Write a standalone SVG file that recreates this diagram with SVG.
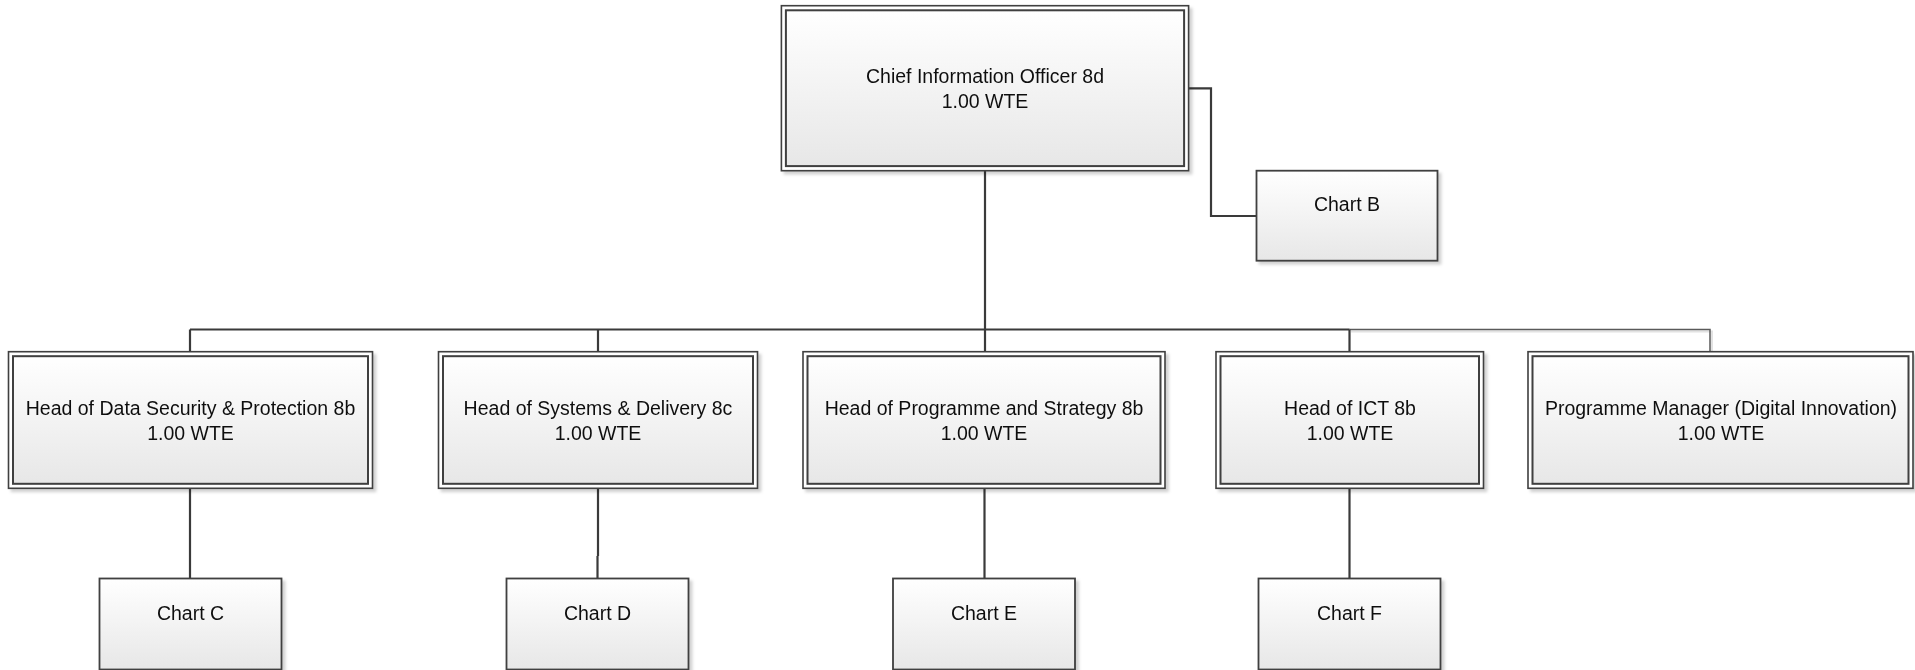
<svg xmlns="http://www.w3.org/2000/svg" width="1915" height="670" viewBox="0 0 1915 670">
<style>
.o{fill:#ffffff;stroke:#3f3f3f;stroke-width:1.6}
.i{fill:url(#g);stroke:#3f3f3f;stroke-width:2}
.c{fill:url(#g);stroke:#3f3f3f;stroke-width:1.8}
.t{font-family:"Liberation Sans",Arial,sans-serif;font-size:19.5px;fill:#111;text-anchor:middle}
.ln{fill:none;stroke:#3a3a3a;stroke-width:2.2}
.lt{fill:none;stroke:#5a5a5a;stroke-width:1.5}
.ls{fill:none;stroke:#e2e2e2;stroke-width:2}
</style>
<defs>
<linearGradient id="g" x1="0" y1="0" x2="0" y2="1">
<stop offset="0" stop-color="#ffffff"/>
<stop offset="1" stop-color="#e7e7e7"/>
</linearGradient>
<filter id="sh" x="-5%" y="-5%" width="115%" height="120%">
<feDropShadow dx="3" dy="3" stdDeviation="1.5" flood-color="#000" flood-opacity="0.18"/>
</filter>
</defs>

<g id="connectors">
<path class="ls" d="M1351 331.5 H1712 V352"/>
<path class="lt" d="M1349.5 329.5 H1710 V352"/>
<path class="ln" d="M985 170.7 V352"/>
<path class="ln" d="M190 329.5 H1349.5"/>
<path class="ln" d="M190 329.5 V352"/>
<path class="ln" d="M598 329.5 V352"/>
<path class="ln" d="M1349.5 329.5 V352"/>
<path class="ln" d="M1188.6 88.3 H1211 V216 H1256.5"/>
<path class="ln" d="M190 488.3 V578.5"/>
<path class="ln" d="M598 488.3 V556 M597.5 556 V578.5"/>
<path class="ln" d="M984.5 488.3 V578.5"/>
<path class="ln" d="M1349.5 488.3 V578.5"/>
</g>

<g id="cio" filter="url(#sh)">
<rect class="o" x="781.4" y="5.7" width="407.2" height="165"/>
<rect class="i" x="785.9" y="10.3" width="398.2" height="155.8"/>
<text class="t" x="985" y="83">Chief Information Officer 8d</text>
<text class="t" x="985" y="108">1.00 WTE</text>
</g>

<g id="chartB" filter="url(#sh)">
<rect class="c" x="1256.5" y="170.7" width="181" height="90"/>
<text class="t" x="1347" y="210.5">Chart B</text>
</g>

<g id="headDataSecurity" filter="url(#sh)">
<rect class="o" x="8.5" y="351.7" width="364" height="136.6"/>
<rect class="i" x="13" y="356.2" width="355" height="127.6"/>
<text class="t" x="190.5" y="415">Head of Data Security &amp; Protection 8b</text>
<text class="t" x="190.5" y="440">1.00 WTE</text>
</g>

<g id="headSystems" filter="url(#sh)">
<rect class="o" x="438.5" y="351.7" width="319" height="136.6"/>
<rect class="i" x="443" y="356.2" width="310" height="127.6"/>
<text class="t" x="598" y="415">Head of Systems &amp; Delivery 8c</text>
<text class="t" x="598" y="440">1.00 WTE</text>
</g>

<g id="headProgramme" filter="url(#sh)">
<rect class="o" x="803" y="351.7" width="362" height="136.6"/>
<rect class="i" x="807.5" y="356.2" width="353" height="127.6"/>
<text class="t" x="984" y="415">Head of Programme and Strategy 8b</text>
<text class="t" x="984" y="440">1.00 WTE</text>
</g>

<g id="headICT" filter="url(#sh)">
<rect class="o" x="1216" y="351.7" width="267.5" height="136.6"/>
<rect class="i" x="1220.5" y="356.2" width="258.5" height="127.6"/>
<text class="t" x="1350" y="415">Head of ICT 8b</text>
<text class="t" x="1350" y="440">1.00 WTE</text>
</g>

<g id="programmeManager" filter="url(#sh)">
<rect class="o" x="1528" y="351.7" width="385" height="136.6"/>
<rect class="i" x="1532.5" y="356.2" width="376" height="127.6"/>
<text class="t" x="1721" y="415">Programme Manager (Digital Innovation)</text>
<text class="t" x="1721" y="440">1.00 WTE</text>
</g>

<g id="chartC" filter="url(#sh)">
<rect class="c" x="99.5" y="578.5" width="182" height="91"/>
<text class="t" x="190.5" y="619.5">Chart C</text>
</g>

<g id="chartD" filter="url(#sh)">
<rect class="c" x="506.5" y="578.5" width="182" height="91"/>
<text class="t" x="597.5" y="619.5">Chart D</text>
</g>

<g id="chartE" filter="url(#sh)">
<rect class="c" x="893" y="578.5" width="182" height="91"/>
<text class="t" x="984" y="619.5">Chart E</text>
</g>

<g id="chartF" filter="url(#sh)">
<rect class="c" x="1258.5" y="578.5" width="182" height="91"/>
<text class="t" x="1349.5" y="619.5">Chart F</text>
</g>
</svg>
